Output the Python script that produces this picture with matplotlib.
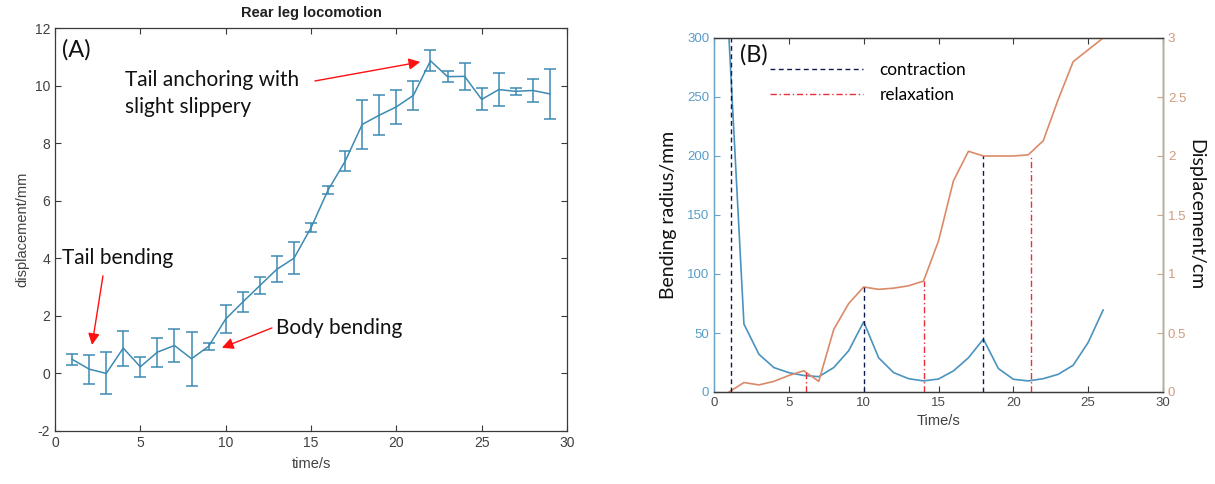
import matplotlib
matplotlib.use("Agg")
import matplotlib.pyplot as plt
import numpy as np

plt.rcParams["axes.unicode_minus"] = False

# ---------------- data: panel (A) ----------------
time_a = [1, 2, 3, 4, 5, 6, 7, 8, 9, 10, 11, 12, 13, 14, 15, 16, 17, 18, 19, 20,
          21, 22, 23, 24, 25, 26, 27, 28, 29]
disp_a = [0.49, 0.15, 0.0, 0.88, 0.23, 0.74, 0.97, 0.51, 0.94, 1.89, 2.48, 3.05,
          3.62, 4.0, 5.06, 6.37, 7.37, 8.65, 8.97, 9.26, 9.66, 10.86, 10.31, 10.32,
          9.52, 9.86, 9.8, 9.83, 9.71]
err_a = [0.2, 0.5, 0.73, 0.61, 0.35, 0.5, 0.57, 0.94, 0.12, 0.47, 0.34, 0.29,
         0.46, 0.55, 0.15, 0.15, 0.35, 0.85, 0.69, 0.6, 0.5, 0.37, 0.18, 0.47,
         0.38, 0.57, 0.12, 0.39, 0.88]

# ---------------- data: panel (B) ----------------
time_b = [1, 2, 3, 4, 5, 6, 7, 8, 9, 10, 11, 12, 13, 14, 15, 16, 17, 18, 19, 20,
          21, 22, 23, 24, 25, 26]
radius_b = [300, 57.6, 32, 20.7, 16.4, 14, 13, 20.7, 35, 59.5, 29, 16.4, 11.3,
            9.4, 11, 17.9, 29, 44.8, 19.9, 10.8, 9.4, 11.3, 15, 22.7, 42, 69.5]
disp_b = [0.0, 0.08, 0.06, 0.09, 0.14, 0.18, 0.09, 0.53, 0.75, 0.89, 0.87, 0.88,
          0.90, 0.94, 1.28, 1.79, 2.04, 2.0, 2.0, 2.0, 2.01, 2.13, 2.48, 2.8,
          2.9, 3.0]
contraction_t = [1.13, 10, 18]
contraction_top = [3.0, 0.89, 2.0]
relaxation_t = [6.15, 14, 21.15]
relaxation_top = [0.18, 0.94, 2.01]

W, H = 1215, 484
fig = plt.figure(figsize=(W / 100, H / 100), dpi=100)
fig.patch.set_facecolor("white")

ANN_FONT = ["Lato", "DejaVu Sans"]
AX_FONT = ["Liberation Sans", "DejaVu Sans"]

# ================= panel A =================
ax1 = fig.add_axes([55 / W, 1 - 431 / H, 512 / W, 403 / H])
line_col = "#3d8ab3"
ax1.errorbar(time_a, disp_a, yerr=err_a, color=line_col, lw=1.1, elinewidth=1.1,
             capsize=4.5, capthick=1.1)
ax1.set_xlim(0, 30)
ax1.set_ylim(-2, 12)
ax1.set_xticks(range(0, 31, 5))
ax1.set_yticks(range(-2, 13, 2))
for s in ax1.spines.values():
    s.set_color("#3a3a3a")
    s.set_linewidth(0.9)
ax1.tick_params(direction="in", top=True, right=True, length=4, width=0.8,
                colors="#3a3a3a", labelsize=10, labelcolor="#404040")
for lab in ax1.get_xticklabels() + ax1.get_yticklabels():
    lab.set_family(AX_FONT)
ax1.set_xlabel("time/s", fontsize=10.5, family=AX_FONT, color="#404040", labelpad=5)
ax1.set_ylabel("displacement/mm", fontsize=10.5, family=AX_FONT, color="#404040",
               labelpad=4)
ax1.set_title("Rear leg locomotion", fontsize=10.5, fontweight="bold",
              family=AX_FONT, color="#202020", pad=8)

ANN = 15
ax1.text(0.41, 11.24, "(A)", fontsize=17, family=ANN_FONT, va="center", ha="left",
         color="#111111")
ax1.text(4.1, 10.19, "Tail anchoring with", fontsize=ANN, family=ANN_FONT,
         va="center", ha="left", color="#111111")
ax1.text(4.1, 9.26, "slight slippery", fontsize=ANN, family=ANN_FONT,
         va="center", ha="left", color="#111111")
ax1.text(0.41, 4.01, "Tail bending", fontsize=ANN, family=ANN_FONT,
         va="center", ha="left", color="#111111")
ax1.text(12.95, 1.58, "Body bending", fontsize=ANN, family=ANN_FONT,
         va="center", ha="left", color="#111111")

arr = dict(arrowstyle="-|>", color="#ff1010", lw=1.0, mutation_scale=17,
           shrinkA=0, shrinkB=0)
ax1.annotate("", xy=(21.4, 10.82), xytext=(15.23, 10.16), arrowprops=arr)
ax1.annotate("", xy=(2.17, 0.99), xytext=(2.81, 3.39), arrowprops=arr)
ax1.annotate("", xy=(9.78, 0.89), xytext=(12.71, 1.58), arrowprops=arr)

# ================= panel B =================
blue = "#4a93bf"
orange = "#db8a68"
ax2 = fig.add_axes([714 / W, 1 - 392 / H, 449 / W, 354 / H])
ax3 = ax2.twinx()

ax2.plot(time_b, radius_b, color=blue, lw=1.2)
ax3.plot(time_b, disp_b, color=orange, lw=1.2)
ax3.vlines(contraction_t, 0, contraction_top, colors="#101a50",
           linestyles=(0, (3.5, 2.5)), lw=1.0, label="contraction")
ax3.vlines(relaxation_t, 0, relaxation_top, colors="#e8303a",
           linestyles=(0, (4.5, 2, 1, 2)), lw=1.0, label="relaxation")

ax2.set_xlim(0, 30)
ax2.set_ylim(0, 300)
ax3.set_ylim(0, 3)
ax2.set_xticks(range(0, 31, 5))
ax2.set_yticks(range(0, 301, 50))
ax3.set_yticks([0, 0.5, 1, 1.5, 2, 2.5, 3])
ax3.set_yticklabels(["0", "0.5", "1", "1.5", "2", "2.5", "3"])

for s in ["top", "bottom"]:
    ax2.spines[s].set_color("#3a3a3a")
    ax3.spines[s].set_color("#3a3a3a")
ax3.spines["left"].set_color("#6aa2c8")
ax2.spines["left"].set_color("#6aa2c8")
ax3.spines["right"].set_color("#c8a88a")
for a in (ax2, ax3):
    for s in a.spines.values():
        s.set_linewidth(0.9)

ax2.tick_params(axis="x", direction="in", top=True, length=4, width=0.8,
                colors="#3a3a3a", labelsize=9.5, labelcolor="#4a4a4a")
ax2.tick_params(axis="y", direction="in", length=4, width=0.8, colors="#6aa2c8",
                labelsize=9.5, labelcolor="#5a9cc8")
ax3.tick_params(axis="y", direction="in", length=4, width=0.8, colors="#c8a88a",
                labelsize=9.5, labelcolor="#d09a7e")
for lab in ax2.get_xticklabels() + ax2.get_yticklabels() + ax3.get_yticklabels():
    lab.set_family(AX_FONT)

ax2.set_xlabel("Time/s", fontsize=10.5, family=AX_FONT, color="#404040", labelpad=4)
ax2.set_ylabel("Bending radius/mm", fontsize=14, family=ANN_FONT, color="#111111",
               labelpad=7)
ax3.set_ylabel("Displacement/cm", fontsize=14, family=ANN_FONT, color="#111111",
               rotation=270, labelpad=13)

ax2.text(1.74, 285.6, "(B)", fontsize=17, family=ANN_FONT, va="center",
         ha="left", color="#111111")

leg = ax3.legend(loc="upper left", bbox_to_anchor=(770 / W, 1 - 62 / H),
                 bbox_transform=fig.transFigure, frameon=False,
                 prop={"family": ANN_FONT, "size": 12.4}, handlelength=5.4,
                 handletextpad=0.95, labelspacing=0.55, borderpad=0,
                 borderaxespad=0)

fig.savefig("out.png", dpi=100, facecolor="white")
